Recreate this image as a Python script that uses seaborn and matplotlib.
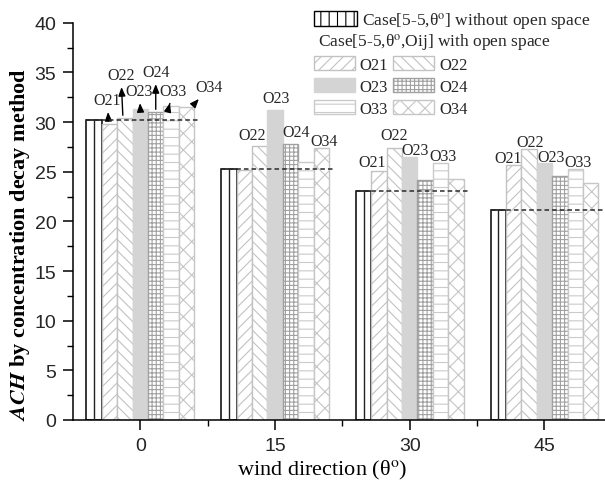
import matplotlib
matplotlib.use("Agg")
import matplotlib.pyplot as plt
from matplotlib.patches import Patch
from matplotlib.ticker import MultipleLocator, FixedLocator
import seaborn as sns
import pandas as pd

# ---- data -------------------------------------------------------------
directions = ["0", "15", "30", "45"]
series = ["Case", "O21", "O22", "O23", "O24", "O33", "O34"]
ach_case = [30.2, 25.3, 23.1, 21.1]
ach_o21 = [29.8, 25.2, 25.1, 25.7]
ach_o22 = [30.4, 27.6, 27.4, 27.3]
ach_o23 = [31.3, 31.2, 26.5, 25.9]
ach_o24 = [31.0, 27.8, 24.2, 24.6]
ach_o33 = [31.6, 26.0, 25.9, 25.3]
ach_o34 = [31.5, 27.4, 24.3, 23.9]
values = [ach_case, ach_o21, ach_o22, ach_o23, ach_o24, ach_o33, ach_o34]

# which bars carry a name label above them
labelled = {
    "0": ["O21", "O22", "O23", "O24", "O33", "O34"],
    "15": ["O22", "O23", "O24", "O34"],
    "30": ["O21", "O22", "O23", "O33"],
    "45": ["O21", "O22", "O23", "O33"],
}

# ---- styling ----------------------------------------------------------
bar_style = {
    "Case": dict(facecolor="white", edgecolor="black", hatch="", lw=1.1),
    "O21": dict(facecolor="white", edgecolor="#c2c2c2", hatch="///", lw=1.0),
    "O22": dict(facecolor="white", edgecolor="#c2c2c2", hatch="\\\\\\", lw=1.0),
    "O23": dict(facecolor="#d4d4d4", edgecolor="#d4d4d4", hatch="", lw=1.0),
    "O24": dict(facecolor="white", edgecolor="#a0a0a0", hatch="++++", lw=1.0),
    "O33": dict(facecolor="white", edgecolor="#cacaca", hatch="--", lw=1.0),
    "O34": dict(facecolor="white", edgecolor="#c6c6c6", hatch="xx", lw=1.0),
}

# label placement in pixels from the bar's top centre:
# (text dx, text dy, arrow foot dx or None for no arrow)
label_offsets = {
    ("0", "O21"): (-2, 24, -1), ("0", "O22"): (-4, 43, -2),
    ("0", "O23"): (-1, 18, 0), ("0", "O24"): (0, 40, 0),
    ("0", "O33"): (2, 15, -2), ("0", "O34"): (23, 20, 5),
    ("15", "O22"): (-8, 11, None), ("15", "O23"): (1, 12, None),
    ("15", "O24"): (6, 12, None), ("15", "O34"): (3, 7, None),
    ("30", "O21"): (-7, 9, None), ("30", "O22"): (0, 13, None),
    ("30", "O23"): (5, 7, None), ("30", "O33"): (2, 7, None),
    ("45", "O21"): (-6, 7, None), ("45", "O22"): (1, 7, None),
    ("45", "O23"): (7, 6, None), ("45", "O33"): (3, 7, None),
}

sns.set_theme(style="ticks")
serif = ["Liberation Serif", "DejaVu Serif"]
sans = ["Liberation Sans", "DejaVu Sans"]
plt.rcParams.update({
    "font.family": serif,
    "mathtext.fontset": "stix",
    "hatch.linewidth": 0.8,
    "axes.linewidth": 1.1,
    "xtick.major.width": 1.1,
    "ytick.major.width": 1.1,
    "xtick.minor.width": 1.0,
    "ytick.minor.width": 1.0,
})

df = pd.DataFrame(
    [(d, s, v) for s, vals in zip(series, values) for d, v in zip(directions, vals)],
    columns=["direction", "series", "ach"],
)

fig = plt.figure(figsize=(6.05, 4.81), dpi=100)
ax = fig.add_axes([73 / 605, 60 / 481, 532 / 605, (421 - 23.7) / 481])

sns.barplot(data=df, x="direction", y="ach", hue="series", order=directions,
            hue_order=series, palette=["white"] * len(series), width=0.8,
            gap=0, errorbar=None, legend=False, saturation=1, ax=ax)

for name, cont in zip(series, ax.containers):
    st = bar_style[name]
    for bar in cont:
        bar.set_facecolor(st["facecolor"])
        bar.set_edgecolor(st["edgecolor"])
        bar.set_hatch(st["hatch"])
        bar.set_linewidth(st["lw"])

# axes limits first so pixel/data conversions below are final
ax.set_xlim(-0.5, -0.5 + 532 / 134.7)
ax.set_ylim(0, 40)
px_to_data = (ax.get_xlim()[1] - ax.get_xlim()[0]) / 532

# the reference case: divided bar plus dashed level line across the group
case_bars = ax.containers[0]
for bar in case_bars:
    xc = bar.get_x() + bar.get_width() / 2
    h = bar.get_height()
    ax.vlines(xc, 0, h, color="#222222", lw=1.0, zorder=4)
    ax.hlines(h, bar.get_x(), bar.get_x() + 0.84, colors="#2a2a2a",
              linestyles=(0, (3.0, 2.0)), lw=1.1, zorder=5)

# name labels above bars
for name, cont in zip(series, ax.containers):
    for d, bar in zip(directions, cont):
        if name not in labelled[d]:
            continue
        dx, dy, foot = label_offsets[(d, name)]
        xc = bar.get_x() + bar.get_width() / 2
        top = bar.get_height()
        if foot is None:
            ax.annotate(name, xy=(xc, top), xycoords="data",
                        xytext=(dx, dy), textcoords="offset pixels",
                        ha="center", va="center", fontsize=11.5,
                        annotation_clip=False)
        else:
            ax.annotate(name, xy=(xc + foot * px_to_data, top), xycoords="data",
                        xytext=(dx - foot, dy), textcoords="offset pixels",
                        ha="center", va="center", fontsize=11.5,
                        annotation_clip=False,
                        arrowprops=dict(arrowstyle="<|-,head_length=0.45,head_width=0.18",
                                        color="black", lw=1.0,
                                        shrinkA=0.5, shrinkB=2))

# axes
ax.yaxis.set_major_locator(MultipleLocator(5))
ax.yaxis.set_minor_locator(MultipleLocator(2.5))
ax.xaxis.set_minor_locator(FixedLocator([0.5, 1.5, 2.5]))
ax.tick_params(axis="both", which="major", direction="out", length=7,
               labelsize=14, color="black", pad=5)
ax.tick_params(axis="both", which="minor", direction="out", length=4, color="black")
for lab in ax.get_xticklabels() + ax.get_yticklabels():
    lab.set_family(sans)
sns.despine(ax=ax, top=True, right=True)
ax.spines["left"].set_color("black")
ax.spines["bottom"].set_color("black")

ax.set_xlabel("wind direction (θ$^\\mathrm{o}$)", fontsize=16, color="black")
ax.set_ylabel("$\\mathbfit{ACH}$ by concentration decay method", fontsize=16,
              fontweight="bold", color="black")
ax.xaxis.set_label_coords(0.468, -0.095)
ax.yaxis.set_label_coords(-0.077, 0.445)

# legend
h_case = Patch(facecolor="white", edgecolor="black", hatch="||", lw=1.0)
leg1 = ax.legend([h_case], ["Case[5-5,θ$^\\mathrm{o}$] without open space"],
                 loc="upper left", bbox_to_anchor=(314 / 605, 1 - 11 / 481),
                 bbox_transform=fig.transFigure, frameon=False, fontsize=12.5,
                 handlelength=2.45, handleheight=0.9, handletextpad=0.3,
                 borderpad=0, borderaxespad=0)
ax.add_artist(leg1)
fig.text(318 / 605, 1 - 43 / 481, "Case[5-5,θ$^\\mathrm{o}$,Oij] with open space",
         fontsize=12.5, ha="left", va="center")

order = ["O21", "O23", "O33", "O22", "O24", "O34"]
handles = [Patch(facecolor=bar_style[n]["facecolor"], edgecolor=bar_style[n]["edgecolor"],
                 hatch=bar_style[n]["hatch"], lw=1.0) for n in order]
ax.legend(handles, order, ncol=2, loc="upper left",
          bbox_to_anchor=(314 / 605, 1 - 57 / 481), bbox_transform=fig.transFigure,
          frameon=False, fontsize=12, handlelength=2.45, handleheight=0.95,
          handletextpad=0.3, columnspacing=0.3, labelspacing=0.3,
          borderpad=0, borderaxespad=0)

fig.savefig("out.png", dpi=100)
